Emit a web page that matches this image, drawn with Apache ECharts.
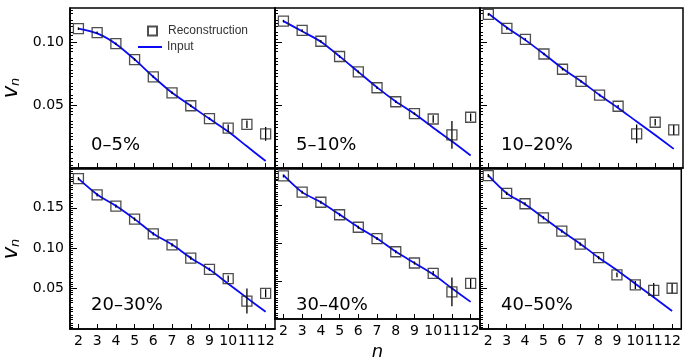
<!DOCTYPE html>
<html>
<head>
<meta charset="utf-8">
<script src="https://cdn.jsdelivr.net/npm/echarts@6/dist/echarts.min.js"></script>
<style>html,body{margin:0;background:#fff}#main{width:684px;height:362px}</style>
</head>
<body>
<div id="main"></div>
<script>
var nVals = [2, 3, 4, 5, 6, 7, 8, 9, 10, 11, 12];
var centralities = ['0–5%', '5–10%', '10–20%', '20–30%', '30–40%', '40–50%'];

// reconstructed v_n (squares) and their errors, input v_n (blue line)
var reco0 = [0.1106, 0.1074, 0.0987, 0.0861, 0.0724, 0.0597, 0.0494, 0.0392, 0.0316, 0.0347, 0.0271];
var err0 = [0.001, 0.001, 0.001, 0.001, 0.001, 0.001, 0.001, 0.001, 0.003, 0.003, 0.0055];
var input0 = [0.1106, 0.1068, 0.0985, 0.0862, 0.0724, 0.0597, 0.0494, 0.0390, 0.0290, 0.0172, 0.0055];

var reco1 = [0.1166, 0.1092, 0.1006, 0.0885, 0.0763, 0.0637, 0.0526, 0.0431, 0.0389, 0.0263, 0.0403];
var err1 = [0.001, 0.001, 0.001, 0.001, 0.001, 0.001, 0.001, 0.001, 0.003, 0.011, 0.003];
var input1 = [0.1166, 0.1085, 0.1003, 0.0886, 0.0763, 0.0640, 0.0528, 0.0430, 0.0320, 0.0212, 0.0099];

var reco2 = [0.1219, 0.1108, 0.1021, 0.0905, 0.0784, 0.0687, 0.0579, 0.0490, 0.0271, 0.0363, 0.0302];
var err2 = [0.001, 0.001, 0.001, 0.001, 0.001, 0.001, 0.001, 0.001, 0.0075, 0.0025, 0.004];
var input2 = [0.1227, 0.1115, 0.1015, 0.0905, 0.0790, 0.0688, 0.0580, 0.0477, 0.0369, 0.0262, 0.0152];

var reco3 = [0.1860, 0.1661, 0.1521, 0.1360, 0.1177, 0.1041, 0.0876, 0.0739, 0.0623, 0.0346, 0.0442];
var err3 = [0.002, 0.002, 0.002, 0.002, 0.002, 0.002, 0.002, 0.002, 0.004, 0.0155, 0.005];
var input3 = [0.1860, 0.1665, 0.1525, 0.1360, 0.1180, 0.1045, 0.0880, 0.0735, 0.0560, 0.0385, 0.0213];

var reco4 = [0.1888, 0.1674, 0.1541, 0.1376, 0.1211, 0.1062, 0.0888, 0.0739, 0.0603, 0.0359, 0.0470];
var err4 = [0.002, 0.002, 0.002, 0.002, 0.002, 0.002, 0.002, 0.002, 0.003, 0.019, 0.006];
var input4 = [0.1900, 0.1675, 0.1540, 0.1378, 0.1212, 0.1062, 0.0890, 0.0740, 0.0590, 0.0405, 0.0226];

var reco5 = [0.1897, 0.1678, 0.1550, 0.1376, 0.1211, 0.1050, 0.0883, 0.0669, 0.0545, 0.0479, 0.0504];
var err5 = [0.002, 0.002, 0.002, 0.002, 0.002, 0.002, 0.002, 0.003, 0.005, 0.009, 0.006];
var input5 = [0.1900, 0.1680, 0.1545, 0.1378, 0.1212, 0.1055, 0.0885, 0.0728, 0.0560, 0.0393, 0.0222];

var topTicks = [0.05, 0.10];
var bottomTicks = [0.05, 0.10, 0.15];

var recos = [reco0, reco1, reco2, reco3, reco4, reco5];
var errs = [err0, err1, err2, err3, err4, err5];
var inputs = [input0, input1, input2, input3, input4, input5];

var myChart = echarts.init(document.getElementById('main'));

var font = 'DejaVu Sans';
var blue = '#0a0af5';
var colLeft = [70, 275, 480];
var colWidth = [205, 205, 203];
var rowTop = [8, 169];
var rowHeight = 160;

var grids = [], xAxes = [], yAxes = [], series = [], graphics = [];

for (var i = 0; i < 6; i++) {
    var row = Math.floor(i / 3), col = i % 3;
    grids.push({
        left: colLeft[col], top: rowTop[row], width: colWidth[col], height: rowHeight,
        show: true, borderColor: '#000', borderWidth: 1.5, backgroundColor: 'transparent'
    });
    xAxes.push({
        type: 'value', gridIndex: i, min: 1.55, max: 12.5,
        splitLine: { show: false },
        axisLine: { lineStyle: { color: '#000', width: 1.5 } },
        axisTick: { inside: true, length: 5, customValues: nVals, lineStyle: { color: '#000' } },
        axisLabel: {
            show: row == 1, customValues: nVals, margin: 5,
            color: '#000', fontFamily: font, fontSize: 14
        },
        name: (i == 4) ? 'n' : '',
        nameLocation: 'middle', nameGap: 24,
        nameTextStyle: { fontFamily: font, fontSize: 18, fontStyle: 'italic', color: '#000' }
    });
    var ticks = row == 0 ? topTicks : bottomTicks;
    yAxes.push({
        type: 'value', gridIndex: i, min: 0, max: row == 0 ? 0.127 : 0.198, interval: 0.01,
        splitLine: { show: false },
        axisLine: { lineStyle: { color: '#000', width: 1.5 } },
        axisTick: { inside: true, length: 7, customValues: ticks, lineStyle: { color: '#000' } },
        minorTick: { show: true, splitNumber: 4, length: 3, lineStyle: { color: '#000' } },
        axisLabel: {
            show: col == 0, customValues: ticks, margin: 6,
            color: '#000', fontFamily: font, fontSize: 14,
            formatter: function (v) { return v.toFixed(2); }
        },
        name: col == 0 ? '{v|v}{n|n}' : '',
        nameLocation: 'middle', nameGap: 48,
        nameTextStyle: {
            rich: {
                v: { fontFamily: font, fontSize: 21, fontStyle: 'italic', color: '#000' },
                n: { fontFamily: font, fontSize: 13, fontStyle: 'italic', color: '#000', verticalAlign: 'bottom', padding: [8, 0, 0, 0] }
            }
        }
    });

    var lineData = [], dotData = [], barData = [];
    for (var k = 0; k < nVals.length; k++) {
        lineData.push([nVals[k], inputs[i][k]]);
        dotData.push([nVals[k], recos[i][k]]);
        barData.push([nVals[k], recos[i][k] - errs[i][k], recos[i][k] + errs[i][k]]);
    }
    series.push({
        name: 'Input', type: 'line', xAxisIndex: i, yAxisIndex: i,
        data: lineData, smooth: 0.3, symbol: 'none',
        lineStyle: { color: blue, width: 1.8 }, itemStyle: { color: blue },
        z: 2, animation: false
    });
    series.push({
        type: 'custom', xAxisIndex: i, yAxisIndex: i, data: barData,
        encode: { x: 0, y: [1, 2] },
        renderItem: function (params, api) {
            var p1 = api.coord([api.value(0), api.value(1)]);
            var p2 = api.coord([api.value(0), api.value(2)]);
            return {
                type: 'line',
                shape: { x1: p1[0], y1: p1[1], x2: p2[0], y2: p2[1] },
                style: { stroke: '#000', lineWidth: 1.3 }
            };
        },
        z: 3, animation: false
    });
    series.push({
        name: 'Reconstruction', type: 'scatter', xAxisIndex: i, yAxisIndex: i,
        data: dotData, symbol: 'rect', symbolSize: 10,
        itemStyle: { color: 'transparent', borderColor: '#222', borderWidth: 1.3 },
        z: 4, animation: false
    });

    graphics.push({
        type: 'text', left: colLeft[col] + 21, top: rowTop[row] + (row == 0 ? 128 : 127),
        style: { text: centralities[i], font: '18px "DejaVu Sans"', fill: '#000' }
    });
}

var option = {
    backgroundColor: '#fff',
    animation: false,
    grid: grids,
    xAxis: xAxes,
    yAxis: yAxes,
    series: series,
    legend: [{
        data: ['Reconstruction'], left: 147, top: 25, padding: 0, itemWidth: 9, itemHeight: 9,
        textStyle: { fontFamily: 'Liberation Sans', fontSize: 12, color: '#333', padding: [0, 0, 0, 6] },
        selectedMode: false
    }, {
        data: [{ name: 'Input', icon: 'rect' }], left: 138, top: 41, padding: 0, itemWidth: 24, itemHeight: 2,
        textStyle: { fontFamily: 'Liberation Sans', fontSize: 12, color: '#333' },
        selectedMode: false
    }],
    graphic: graphics
};

myChart.setOption(option);
</script>
</body>
</html>
